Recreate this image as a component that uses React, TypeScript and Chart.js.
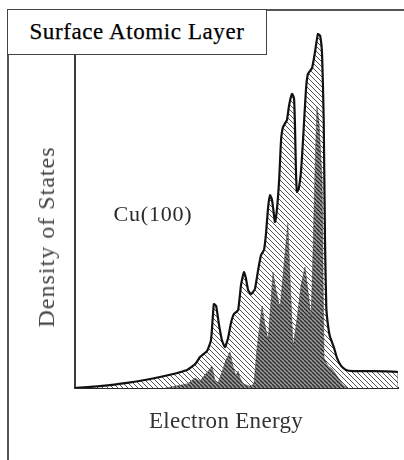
import React, { useEffect, useRef } from "react";
import { Chart, registerables } from "chart.js";

Chart.register(...registerables);

// Electron energy (arbitrary units, 0..100) and density of states (arbitrary units, 0..100)
const totalEnergy = [
  0, 7.7, 16.1, 26.3, 34.7, 37.2, 38.7, 40.9, 42.1, 42.7, 43.0, 43.7, 44.6, 45.5, 46.4, 47.4,
  48.3, 49.2, 50.5, 51.4, 52.3, 52.9, 53.6, 54.5, 55.7, 56.7, 57.6, 58.5, 59.1, 59.8, 60.4,
  61.0, 61.6, 61.9, 62.5, 63.2, 63.8, 64.4, 65.6, 66.3, 67.2, 67.8, 68.1, 68.4, 68.7, 69.3,
  70.0, 70.6, 71.5, 72.1, 73.4, 74.3, 75.2, 75.9, 76.5, 77.0, 77.4, 77.8, 78.2, 78.9, 80.2,
  81.1, 82.4, 83.9, 86.1, 100, 100,
];
const totalDos = [
  0, 0.5, 1.4, 3.0, 4.9, 6.5, 8.4, 10.1, 13.0, 19.8, 22.8, 22.3, 17.1, 13.0, 11.1, 13.6,
  17.7, 20.1, 21.2, 28.0, 31.5, 29.9, 26.6, 25.5, 26.9, 32.1, 36.1, 37.5, 41.6, 49.2, 52.4,
  51.1, 47.0, 45.1, 48.4, 56.5, 67.4, 70.9, 72.8, 76.9, 79.9, 78.8, 71.5, 59.2, 53.3, 54.3,
  59.2, 67.4, 81.0, 85.3, 87.0, 91.3, 96.2, 95.7, 90.5, 72.8, 40.0, 22.0, 18.0, 14.1, 10.9,
  8.2, 6.0, 4.9, 4.6, 4.3, 0,
];

const surfaceEnergy = [
  27.9, 34.7, 37.2, 38.7, 40.2, 41.5, 42.4, 43.3, 44.3, 45.5, 46.7, 48.0, 48.9, 49.8, 50.5,
  51.1, 52.0, 54.2, 55.4, 56.3, 57.9, 58.8, 59.8, 60.7, 61.3, 62.2, 63.5, 64.7, 65.9, 66.6,
  67.5, 68.7, 70.0, 71.2, 72.1, 73.1, 73.7, 74.3, 74.9, 75.5, 76.5, 76.8, 77.1, 78.3, 79.6,
  81.1, 83.0, 84.5,
];
const surfaceDos = [
  0, 1.1, 2.7, 1.9, 3.5, 4.9, 6.0, 2.2, 1.4, 4.3, 7.6, 9.8, 6.0, 3.3, 4.6,
  2.7, 1.1, 0.5, 1.1, 10.3, 22.3, 17.1, 13.0, 23.9, 31.5, 26.6, 21.7, 33.4, 44.8, 29.3,
  11.1, 18.5, 28.0, 32.9, 26.6, 19.0, 37.5, 59.2, 76.4, 72.8, 56.5, 29.3, 8.2, 6.0, 5.2,
  3.3, 0.8, 0,
];

const titleText = "Surface Atomic Layer";
const xLabel = "Electron Energy";
const yLabel = "Density of States";
const sampleLabel = "Cu(100)";

function makeHatch(bg: string, line: string, width: number, size: number) {
  const c = document.createElement("canvas");
  c.width = size;
  c.height = size;
  const g = c.getContext("2d")!;
  g.fillStyle = bg;
  g.fillRect(0, 0, size, size);
  g.strokeStyle = line;
  g.lineWidth = width;
  for (let k = -1; k <= 1; k++) {
    g.beginPath();
    g.moveTo(k * size, 0);
    g.lineTo(k * size + size, size);
    g.stroke();
  }
  return g.createPattern(c, "repeat")!;
}

export default function App() {
  const ref = useRef<HTMLCanvasElement | null>(null);

  useEffect(() => {
    const canvas = ref.current;
    if (!canvas) return;
    const ctx = canvas.getContext("2d")!;
    const light = makeHatch("#ffffff", "#404040", 0.9, 5);
    const dark = makeHatch("#9a9a9a", "#2a2a2a", 1.3, 4);
    const total = totalEnergy.map((x, i) => ({ x, y: totalDos[i] }));
    const surface = surfaceEnergy.map((x, i) => ({ x, y: surfaceDos[i] }));
    const lastSeg = total.length - 2;
    const chart = new Chart(ctx, {
      type: "line",
      data: {
        datasets: [
          {
            label: "Surface layer",
            data: surface,
            fill: "origin",
            backgroundColor: dark,
            borderColor: "rgba(50,50,50,0.7)",
            borderWidth: 0.6,
            pointRadius: 0,
            tension: 0,
          },
          {
            label: "Total",
            data: total,
            fill: "origin",
            backgroundColor: light,
            borderColor: "#111111",
            borderWidth: 2.2,
            pointRadius: 0,
            tension: 0.15,
            segment: {
              borderColor: (c: any) => (c.p0DataIndex === lastSeg ? "#666666" : undefined),
              borderWidth: (c: any) => (c.p0DataIndex === lastSeg ? 1 : undefined),
            },
          },
        ],
      },
      options: {
        responsive: false,
        animation: false,
        layout: { padding: { left: 75, top: 20, right: 6, bottom: 72 } },
        plugins: { legend: { display: false }, tooltip: { enabled: false } },
        scales: {
          x: {
            type: "linear",
            min: 0,
            max: 100,
            ticks: { display: false },
            grid: { display: false, drawTicks: false },
            border: { display: true, color: "#2a2a2a", width: 2 },
          },
          y: {
            type: "linear",
            min: 0,
            max: 100,
            ticks: { display: false },
            grid: { display: false, drawTicks: false },
            border: { display: true, color: "#3a3a3a", width: 2 },
          },
        },
      },
    });
    return () => chart.destroy();
  }, []);

  const font = '"Liberation Serif", "Times New Roman", serif';
  return (
    <div
      style={{
        position: "fixed",
        left: 0,
        top: 0,
        width: 404,
        height: 460,
        background: "#fff",
        overflow: "hidden",
        fontFamily: font,
        color: "#1c1c1c",
      }}
    >
      <canvas ref={ref} width={404} height={460} style={{ position: "absolute", left: 0, top: 0 }} />
      <div
        style={{
          position: "absolute",
          left: 7,
          top: 9,
          width: 460,
          height: 500,
          borderLeft: "2px solid #555",
          borderTop: "2px solid #555",
          boxSizing: "border-box",
          pointerEvents: "none",
        }}
      />
      <div
        style={{
          position: "absolute",
          left: 7,
          top: 9,
          width: 260,
          height: 46,
          border: "1.5px solid #444",
          boxSizing: "border-box",
          background: "#fff",
          display: "flex",
          alignItems: "center",
          justifyContent: "center",
          fontSize: 23,
          letterSpacing: 0.6,
          color: "#000",
          WebkitTextStroke: "0.25px #000",
        }}
      >
        {titleText}
      </div>
      <div
        style={{
          position: "absolute",
          left: 226,
          top: 420,
          transform: "translate(-50%, -50%)",
          fontSize: 23,
          letterSpacing: 0.3,
          lineHeight: 1,
          whiteSpace: "nowrap",
          color: "#333",
        }}
      >
        {xLabel}
      </div>
      <div
        style={{
          position: "absolute",
          left: 46,
          top: 237,
          transform: "translate(-50%, -50%) rotate(-90deg)",
          fontSize: 24,
          letterSpacing: 1,
          lineHeight: 1,
          whiteSpace: "nowrap",
          color: "#444",
        }}
      >
        {yLabel}
      </div>
      <div
        style={{
          position: "absolute",
          left: 153,
          top: 214,
          transform: "translate(-50%, -50%)",
          fontSize: 22,
          letterSpacing: 0.8,
          lineHeight: 1,
          whiteSpace: "nowrap",
          color: "#2a2a2a",
        }}
      >
        {sampleLabel}
      </div>
    </div>
  );
}
